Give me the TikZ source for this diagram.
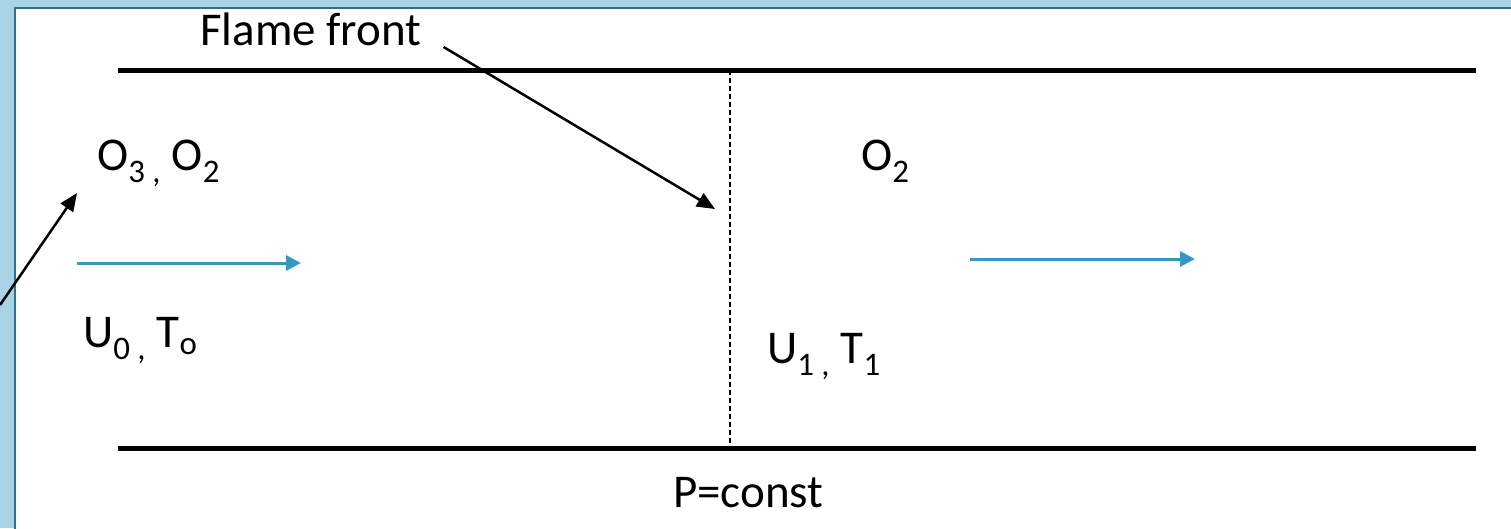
\documentclass[tikz,border=0pt]{standalone}
\usepackage{fontspec}
\setmainfont{Carlito}
\usetikzlibrary{arrows.meta,positioning}
\definecolor{bgblue}{RGB}{168,212,230}
\definecolor{frameblue}{RGB}{49,113,143}
\definecolor{flowblue}{RGB}{55,151,193}
\begin{document}
\begin{tikzpicture}[x=1pt,y=-1pt]
\tikzset{lbl/.style={anchor=base west,inner sep=0pt,font=\fontsize{47}{56}\selectfont},
  wall/.style={line width=5pt},
  ptr/.style={line width=2.5pt,-{Triangle[length=18pt,width=15pt]}},
  flowarr/.style={flowblue,line width=3pt,-{Triangle[length=15pt,width=15pt]}}}
\useasboundingbox (0,0) rectangle (1511,528);
\fill[bgblue] (0,0) rectangle (1511,528);
\draw[frameblue,line width=2.5pt,fill=white] (15,8) rectangle (1540,560);
\draw[wall] (118,70) -- (1476,70);
\draw[wall] (118,448) -- (1476,448);
\draw[line width=1.3pt,dash pattern=on 5pt off 3pt] (730,70) -- (730,448);
\node[lbl] (ff) at (200,45) {Flame front};
\node[lbl] (oin) at (97,170) {O\textsubscript{3 ,} O\textsubscript{2}};
\node[lbl] (oout) at (861,170) {O\textsubscript{2}};
\node[lbl] (uin) at (83,347) {U\textsubscript{0 ,} T\textsubscript{o}};
\node[lbl] (uout) at (767,363) {U\textsubscript{1 ,} T\textsubscript{1}};
\node[lbl] (pc) at (673,507) {P=const};
\coordinate (fftail) at ([xshift=22pt,yshift=-2pt]ff.base east);
\coordinate (fftip) at (715,209);
\coordinate (src) at (0,305);
\coordinate (srctip) at (77,193);
\coordinate (in0) at (77,263); \coordinate (in1) at (301,263);
\coordinate (out0) at (970,259); \coordinate (out1) at (1195,259);
\draw[ptr] (fftail) -- (fftip);
\draw[ptr] (src) -- (srctip);
\draw[flowarr] (in0) -- (in1); \draw[flowarr] (out0) -- (out1);
\end{tikzpicture}
\end{document}
